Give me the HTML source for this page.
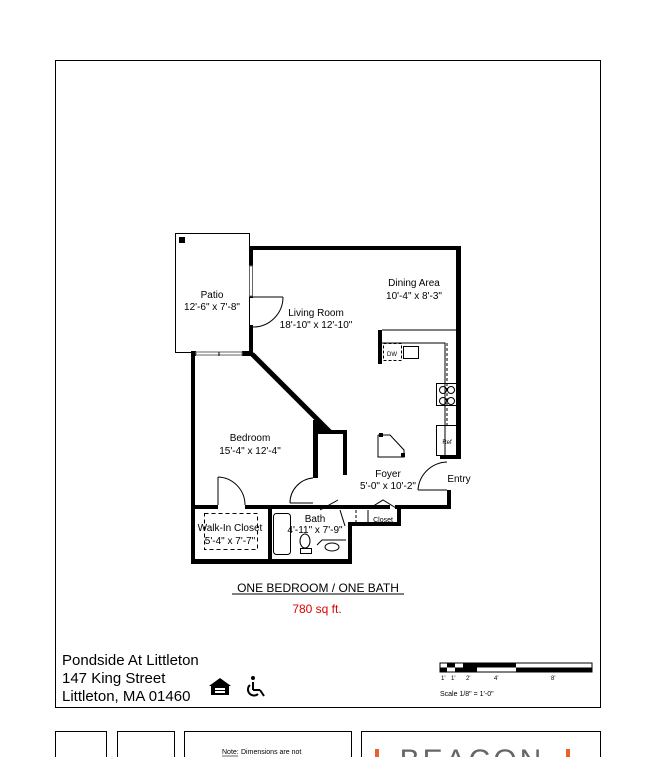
<!DOCTYPE html>
<html><head><style>
body{margin:0;background:#fff;width:650px;height:757px;overflow:hidden}
svg{display:block}
text{font-family:"Liberation Sans",Arial,sans-serif}
</style></head><body>
<svg width="650" height="757" viewBox="0 0 650 757" xmlns="http://www.w3.org/2000/svg">
<rect x="55.5" y="60.5" width="545" height="647" fill="none" stroke="#000" stroke-width="1"/>
<rect x="175.5" y="233.5" width="74" height="119" fill="none" stroke="#000" stroke-width="1"/>
<rect x="179" y="237" width="6" height="6" fill="#000"/>
<g fill="#000">
<rect x="249" y="246" width="212" height="4"/>
<rect x="456" y="246" width="5" height="212"/>
<rect x="440" y="455" width="21" height="4"/>
<rect x="249" y="246" width="4" height="20"/>
<rect x="249" y="296" width="4" height="2"/>
<rect x="249" y="325" width="4" height="30"/>
<rect x="191" y="351" width="5" height="5"/>
<rect x="242" y="351" width="11" height="5"/>
<rect x="191" y="351" width="4" height="213"/>
<rect x="191" y="559" width="161" height="5"/>
<rect x="313" y="420" width="5" height="58"/>
<polygon points="313,420 330,432 313,432"/>
<rect x="313" y="430" width="34" height="4"/>
<rect x="343" y="430" width="4" height="45"/>
<rect x="191" y="505" width="27" height="4"/>
<rect x="245" y="505" width="72" height="4"/>
<rect x="268" y="505" width="4" height="59"/>
<rect x="348" y="523" width="4" height="41"/>
<rect x="348" y="522" width="52" height="4"/>
<rect x="397" y="505" width="4" height="21"/>
<rect x="340" y="505" width="50" height="4"/>
<rect x="395" y="505" width="56" height="4"/>
<rect x="447" y="490" width="4" height="19"/>
<rect x="378" y="330" width="4" height="34"/>
<rect x="313" y="505" width="30" height="4"/>
</g>
<line x1="252" y1="354" x2="330" y2="432" stroke="#000" stroke-width="5"/>
<rect x="249.5" y="266" width="3" height="30" fill="#fff" stroke="#666" stroke-width="1"/>
<rect x="196" y="352" width="46" height="3" fill="#fff" stroke="#666" stroke-width="1"/>
<line x1="219" y1="352" x2="219" y2="356" stroke="#000"/>
<g fill="none" stroke="#000" stroke-width="1">
<path d="M283 297 A30 30 0 0 1 253 327"/><line x1="253" y1="297" x2="283" y2="297"/>
<path d="M218 477 A28 28 0 0 1 245 505"/><line x1="218" y1="477" x2="218" y2="505"/>
<path d="M290 503 A25 25 0 0 1 313 478"/><line x1="290" y1="503" x2="313" y2="503"/>
<path d="M447 462 A30 30 0 0 0 418 490"/><line x1="418" y1="490" x2="447" y2="490"/>
<line x1="320" y1="510" x2="338" y2="500"/><line x1="340" y1="510" x2="345" y2="526"/>
<polyline points="370,508 383,500 396,508"/>
<polyline points="382,330 461,330"/>
<polyline points="382,343 445,343 445,455"/>
<rect x="436.5" y="383.5" width="20" height="22"/>
<rect x="436.5" y="425.5" width="20" height="30"/>
<rect x="403.5" y="346.5" width="15" height="12"/>
<circle cx="443" cy="390" r="3.5"/><circle cx="451" cy="390" r="3.5"/>
<circle cx="443" cy="401" r="3.5"/><circle cx="451" cy="401" r="3.5"/>
<rect x="383.5" y="343.5" width="18" height="17" stroke-dasharray="3,2"/>
<line x1="447" y1="343" x2="447" y2="425" stroke-dasharray="3,2"/>
<polyline points="378,435 378,457 404,457 404,450 390,435 378,435"/>
<rect x="204.5" y="513.5" width="53" height="36" stroke-dasharray="4,3"/>
<line x1="356" y1="510" x2="356" y2="522" stroke-dasharray="3,2"/>
<line x1="368" y1="510" x2="368" y2="522"/>
<rect x="273.5" y="513.5" width="17" height="41" rx="3"/>
<ellipse cx="305" cy="541" rx="5" ry="7"/><rect x="300.5" y="548.5" width="11" height="5"/>
<polyline points="317,545 322,540 346,540"/>
<ellipse cx="332" cy="547" rx="7" ry="4"/>
</g>
<rect x="379" y="433" width="4" height="4"/><rect x="401" y="453" width="4" height="4"/>
<g font-size="10" text-anchor="middle" fill="#000">
<text x="212" y="298">Patio</text><text x="212" y="310">12'-6" x 7'-8"</text>
<text x="316" y="316">Living Room</text><text x="316" y="328">18'-10" x 12'-10"</text>
<text x="414" y="286">Dining Area</text><text x="414" y="299">10'-4" x 8'-3"</text>
<text x="250" y="441">Bedroom</text><text x="250" y="454">15'-4" x 12'-4"</text>
<text x="388" y="477">Foyer</text><text x="388" y="489">5'-0" x 10'-2"</text>
<text x="459" y="482">Entry</text>
<text x="230" y="531">Walk-In Closet</text><text x="230" y="544">5'-4" x 7'-7"</text>
<text x="315" y="522">Bath</text><text x="315" y="533">4'-11" x 7'-9"</text>
<text x="383" y="522" font-size="7">Closet</text>
<text x="392" y="356" font-size="6">DW</text>
<text x="447" y="444" font-size="6">Ref</text>
</g>
<text x="318" y="592" font-size="12" text-anchor="middle">ONE BEDROOM / ONE BATH</text>
<line x1="232" y1="594" x2="404" y2="594" stroke="#000"/>
<text x="317" y="613" font-size="12" text-anchor="middle" fill="#d00">780 sq ft.</text>
<g font-size="15"><text x="62" y="665">Pondside At Littleton</text><text x="62" y="683">147 King Street</text><text x="62" y="701">Littleton, MA 01460</text></g>
<polygon points="209,686 220,678 231,686" fill="#000"/>
<rect x="211" y="686" width="18" height="9" fill="#000"/><rect x="215" y="688" width="10" height="2" fill="#fff"/><rect x="215" y="691" width="10" height="2" fill="#fff"/>
<g fill="none" stroke="#000" stroke-width="2">
<circle cx="253" cy="678" r="2" fill="#000" stroke="none"/>
<line x1="253" y1="682" x2="253" y2="690"/><line x1="253" y1="690" x2="260" y2="690"/><line x1="260" y1="690" x2="264" y2="696"/>
<path d="M250 685 A6 6 0 1 0 258 694"/>
</g>
<rect x="440" y="663" width="152" height="9" fill="#fff" stroke="#000"/>
<g fill="#000"><rect x="447" y="663" width="8" height="4.5"/><rect x="440" y="667.5" width="7" height="4.5"/><rect x="455" y="667.5" width="8" height="4.5"/><rect x="463" y="663" width="14" height="4.5"/><rect x="477" y="663" width="39" height="4.5"/><rect x="516" y="667.5" width="76" height="4.5"/><rect x="463" y="667.5" width="14" height="4.5"/></g>
<g font-size="6"><text x="441" y="680">1'</text><text x="451" y="680">1'</text><text x="466" y="680">2'</text><text x="494" y="680">4'</text><text x="551" y="680">8'</text>
<text x="440" y="696" font-size="7">Scale  1/8" = 1'-0"</text></g>
<g fill="none" stroke="#000"><rect x="55.5" y="731.5" width="51" height="40"/><rect x="117.5" y="731.5" width="57" height="40"/><rect x="184.5" y="731.5" width="167" height="40"/><rect x="361.5" y="731.5" width="239" height="40"/></g>
<text x="222" y="754" font-size="7">Note:</text><text x="241" y="754" font-size="7">Dimensions are not</text>
<line x1="222" y1="756" x2="238" y2="756" stroke="#000" stroke-width="0.6"/>
<rect x="375" y="749" width="4" height="10" fill="#e8612c"/><rect x="566" y="749" width="4" height="10" fill="#e8612c"/>
<text x="472" y="770" font-size="30" text-anchor="middle" fill="#666" letter-spacing="3">BEACON</text>
</svg>
</body></html>
